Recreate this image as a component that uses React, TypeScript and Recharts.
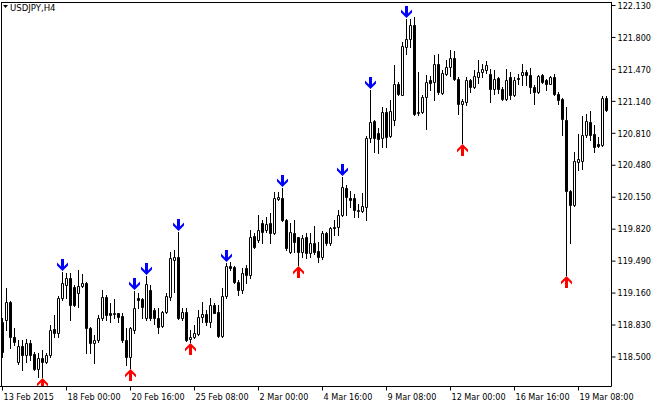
import React from "react";
import { ComposedChart, Bar, XAxis, YAxis } from "recharts";

const FONT = "'DejaVu Sans Condensed', 'DejaVu Sans', 'Liberation Sans', sans-serif";

// USDJPY H4 candles, oldest first
const opens = [
  118.861, 118.882, 119.07, 118.706, 118.452, 118.614, 118.521, 118.641, 118.531, 118.373,
  118.487, 118.452, 118.521, 118.786, 118.751, 119.106, 119.243, 119.312, 119.219, 119.157,
  119.232, 119.26, 118.796, 118.641, 118.676, 118.899, 119.122, 118.951, 118.944, 118.951,
  118.923, 118.676, 118.503, 118.779, 119.106, 119.095, 118.899, 119.191, 118.985, 118.899,
  118.82, 118.967, 119.122, 119.501, 119.535, 118.899, 118.967, 118.683, 118.71, 118.737,
  118.91, 118.944, 118.864, 119.036, 118.967, 118.717, 119.129, 119.439, 119.425, 119.277,
  119.191, 119.415, 119.346, 119.748, 119.707, 119.879, 119.81, 119.879, 119.782, 120.133,
  120.137, 119.913, 119.586, 119.782, 119.735, 119.586, 119.735, 119.57, 119.673, 119.596,
  119.528, 119.776, 119.673, 119.844, 119.844, 119.965, 120.24, 120.147, 120.137, 120.009,
  120.009, 120.05, 120.766, 120.937, 120.813, 120.766, 121.03, 120.779, 120.944, 121.323,
  121.202, 121.7, 121.787, 121.924, 121.016, 121.03, 121.184, 121.357, 121.339, 121.529,
  121.226, 121.426, 121.494, 121.591, 121.374, 121.116, 121.133, 121.364, 121.288, 121.391,
  121.442, 121.467, 121.426, 121.271, 121.384, 121.271, 121.168, 121.391, 121.202, 121.38,
  121.408, 121.442, 121.408, 121.288, 121.236, 121.408, 121.364, 121.323, 121.391, 121.212,
  121.168, 120.944, 120.215, 120.068, 120.514, 120.524, 120.789, 120.927, 120.8, 120.697,
  120.686, 121.178,
];
const highs = [
  118.902, 119.212, 119.078, 118.799, 118.676, 118.676, 118.686, 118.676, 118.555, 118.541,
  118.572, 118.545, 118.83, 118.933, 119.129, 119.38, 119.363, 119.363, 119.243, 119.397,
  119.356, 119.274, 118.813, 118.727, 118.933, 119.191, 119.14, 119.054, 119.098, 118.957,
  118.951, 118.796, 118.813, 119.18, 119.157, 119.106, 119.336, 119.243, 119.005, 119.002,
  118.978, 119.157, 119.586, 119.604, 119.79, 119.002, 119.002, 118.779, 118.83, 118.985,
  119.07, 118.985, 119.106, 119.054, 119.036, 119.209, 119.469, 119.483, 119.439, 119.294,
  119.418, 119.449, 119.81, 119.776, 119.965, 119.913, 119.947, 119.982, 120.205, 120.205,
  120.24, 119.93, 119.879, 119.913, 119.741, 119.758, 119.776, 119.782, 119.851, 119.689,
  119.803, 119.792, 119.844, 119.913, 120.016, 120.356, 120.274, 120.215, 120.188, 120.085,
  120.194, 120.779, 121.253, 120.944, 120.869, 121.081, 121.075, 121.15, 121.511, 121.339,
  121.752, 121.986, 121.993, 122.009, 121.442, 121.202, 121.408, 121.398, 121.614, 121.632,
  121.46, 121.563, 121.666, 121.661, 121.391, 121.168, 121.391, 121.374, 121.467, 121.563,
  121.529, 121.556, 121.477, 121.467, 121.391, 121.288, 121.477, 121.442, 121.391, 121.426,
  121.522, 121.467, 121.488, 121.305, 121.408, 121.419, 121.374, 121.398, 121.419, 121.236,
  121.178, 121.081, 120.222, 120.617, 120.807, 120.985, 121.006, 121.04, 120.893, 120.772,
  121.192, 121.192,
];
const lows = [
  118.5, 118.779, 118.593, 118.624, 118.428, 118.366, 118.452, 118.469, 118.366, 118.297,
  118.294, 118.441, 118.503, 118.71, 118.71, 119.088, 119.106, 118.882, 119.026, 119.019,
  119.222, 118.538, 118.541, 118.441, 118.658, 118.882, 118.882, 118.864, 118.899, 118.864,
  118.658, 118.418, 118.387, 118.745, 119.002, 118.899, 118.882, 118.882, 118.841, 118.745,
  118.813, 118.951, 119.088, 119.174, 118.892, 118.882, 118.665, 118.658, 118.693, 118.727,
  118.864, 118.83, 118.813, 118.951, 118.71, 118.71, 119.106, 119.397, 119.26, 119.14,
  119.16, 119.26, 119.312, 119.621, 119.689, 119.673, 119.792, 119.673, 119.768, 120.126,
  119.906, 119.604, 119.57, 119.586, 119.449, 119.535, 119.518, 119.535, 119.562, 119.483,
  119.508, 119.655, 119.655, 119.758, 119.758, 119.954, 119.965, 120.05, 119.947, 119.947,
  119.999, 119.913, 120.72, 120.617, 120.607, 120.669, 120.669, 120.772, 120.893, 121.202,
  121.202, 121.632, 121.7, 120.996, 121.001, 121.019, 120.859, 121.254, 121.158, 121.22,
  121.22, 121.408, 121.398, 121.357, 121.013, 120.707, 121.099, 121.236, 121.281, 121.329,
  121.391, 121.432, 121.133, 121.22, 121.226, 121.158, 121.158, 121.168, 121.192, 121.323,
  121.305, 121.305, 121.226, 121.116, 121.226, 121.329, 121.261, 121.315, 121.202, 121.109,
  120.79, 119.346, 119.679, 120.058, 120.429, 120.446, 120.772, 120.738, 120.617, 120.669,
  120.676, 121.04,
];
const closes = [
  118.552, 119.07, 118.71, 118.658, 118.614, 118.521, 118.641, 118.521, 118.373, 118.487,
  118.452, 118.521, 118.779, 118.751, 119.106, 119.26, 119.312, 119.036, 119.036, 119.232,
  119.26, 118.796, 118.648, 118.676, 118.899, 119.122, 118.933, 118.933, 118.951, 118.91,
  118.676, 118.503, 118.796, 119.002, 119.088, 119.013, 119.253, 118.899, 118.899, 118.813,
  118.967, 119.129, 119.518, 119.535, 118.899, 118.967, 118.676, 118.71, 118.745, 118.916,
  118.944, 118.864, 119.036, 118.957, 118.717, 119.129, 119.439, 119.421, 119.277, 119.191,
  119.366, 119.346, 119.741, 119.631, 119.81, 119.792, 119.869, 119.782, 120.147, 120.153,
  119.913, 119.621, 119.792, 119.689, 119.586, 119.724, 119.57, 119.673, 119.586, 119.528,
  119.776, 119.673, 119.827, 119.827, 119.965, 120.256, 120.153, 120.126, 120.016, 120.023,
  120.057, 120.766, 120.927, 120.766, 120.755, 121.03, 120.772, 121.04, 121.323, 121.22,
  121.707, 121.787, 121.924, 121.013, 121.03, 121.184, 121.339, 121.329, 121.522, 121.236,
  121.432, 121.494, 121.591, 121.374, 121.116, 121.14, 121.364, 121.288, 121.398, 121.442,
  121.477, 121.511, 121.271, 121.374, 121.271, 121.168, 121.357, 121.202, 121.364, 121.367,
  121.442, 121.408, 121.288, 121.236, 121.398, 121.339, 121.323, 121.391, 121.212, 121.15,
  120.962, 120.215, 120.068, 120.524, 120.549, 120.789, 120.937, 120.789, 120.669, 120.676,
  121.178, 121.055,
];

// bars that carry a signal arrow
const sellBars = [15, 33, 36, 44, 56, 70, 85, 92, 101];
const buyBars = [10, 32, 47, 74, 115, 141];

const timeLabels = [
  "13 Feb 2015",
  "18 Feb 00:00",
  "20 Feb 16:00",
  "25 Feb 08:00",
  "2 Mar 00:00",
  "4 Mar 16:00",
  "9 Mar 08:00",
  "12 Mar 00:00",
  "16 Mar 16:00",
  "19 Mar 08:00",
];
const BARS_PER_LABEL = 16;
const priceTicks = [
  118.5, 118.83, 119.16, 119.49, 119.82, 120.15, 120.48, 120.81, 121.14, 121.47, 121.8, 122.13,
];

const data = opens.map((open, i) => ({
  i,
  open,
  high: highs[i],
  low: lows[i],
  close: closes[i],
  sell: sellBars.includes(i),
  buy: buyBars.includes(i),
}));

const tickIdx = timeLabels.map((_, k) => k * BARS_PER_LABEL);

function Candle(props: any) {
  const { x, y, width, height, payload } = props;
  if (!payload) return null;
  const { open, high, low, close, sell, buy } = payload;
  const top = Math.min(y, y + height);
  const k = Math.abs(height) / (high - low || 1);
  const py = (p: number) => top + (high - p) * k;
  const cx = Math.round(x + width / 2 - 0.5) + 0.5;
  const yH = Math.round(py(high));
  const yL = Math.round(py(low));
  const yO = Math.round(py(open));
  const yC = Math.round(py(close));
  const bTop = Math.min(yO, yC) + 0.5;
  const bBot = Math.max(yO, yC) + 0.5;
  const bull = close >= open;
  const down = yH - 1;
  const up = yL + 1;
  return (
    <g>
      <line x1={cx} x2={cx} y1={yH} y2={yL + 1} stroke="#000" strokeWidth={1} />
      <path
        d={`M${cx - 1},${bTop}H${cx + 1}V${bBot}H${cx - 1}Z`}
        fill={bull ? "#fff" : "#000"}
        stroke="#000"
        strokeWidth={1}
      />
      {sell && (
        <path
          d={`M${cx},${down}L${cx - 5.5},${down - 5.5}L${cx - 5.5},${down - 8.5}L${cx - 1.5},${down - 4.5}L${cx - 1.5},${down - 12}L${cx + 1.5},${down - 12}L${cx + 1.5},${down - 4.5}L${cx + 5.5},${down - 8.5}L${cx + 5.5},${down - 5.5}Z`}
          fill="#0000ff"
        />
      )}
      {buy && (
        <path
          d={`M${cx},${up}L${cx - 5.5},${up + 5.5}L${cx - 5.5},${up + 8.5}L${cx - 1.5},${up + 4.5}L${cx - 1.5},${up + 12}L${cx + 1.5},${up + 12}L${cx + 1.5},${up + 4.5}L${cx + 5.5},${up + 8.5}L${cx + 5.5},${up + 5.5}Z`}
          fill="#ff0000"
        />
      )}
    </g>
  );
}

function TimeTick(props: any) {
  const { x, y, payload } = props;
  const label = timeLabels[Math.round(payload.value / BARS_PER_LABEL)];
  return (
    <text x={x + 1} y={y + 7} textAnchor="start" fontSize={9} fontFamily={FONT} fill="#000">
      {label}
    </text>
  );
}

export default function App() {
  return (
    <div style={{ position: "absolute", left: 0, top: 0, width: 652, height: 406, background: "#fff" }}>
      <ComposedChart
        width={652}
        height={406}
        data={data}
        margin={{ top: 2.5, right: 0, bottom: 0, left: 0 }}
        barCategoryGap={0}
        barGap={0}
      >
        <XAxis
          dataKey="i"
          type="category"
          ticks={tickIdx}
          interval={0}
          height={19.5}
          tickSize={4}
          tickMargin={2}
          padding={{ left: 0.5, right: 3 }}
          axisLine={{ stroke: "#000" }}
          tickLine={{ stroke: "#000" }}
          tick={<TimeTick />}
        />
        <YAxis
          orientation="right"
          type="number"
          domain={[118.195, 122.161]}
          allowDataOverflow
          ticks={priceTicks}
          interval={0}
          width={40.5}
          tickSize={4}
          tickMargin={2}
          axisLine={{ stroke: "#000" }}
          tickLine={{ stroke: "#000" }}
          tick={{ fontSize: 9, fill: "#000", fontFamily: FONT }}
          tickFormatter={(v: number) => v.toFixed(3)}
        />
        <Bar
          dataKey={(d: any) => [d.low, d.high]}
          shape={<Candle />}
          isAnimationActive={false}
        />
      </ComposedChart>
      <svg
        width={652}
        height={406}
        style={{ position: "absolute", left: 0, top: 0, pointerEvents: "none" }}
      >
        <line x1={1.5} x2={1.5} y1={2} y2={387} stroke="#000" />
        <line x1={1} x2={612} y1={2.5} y2={2.5} stroke="#000" />
        <polygon points="3,5 8,5 5.5,8" fill="#000" />
        <text x={10} y={10.5} fontSize={9.5} fontFamily={FONT} fill="#000">
          USDJPY,H4
        </text>
      </svg>
    </div>
  );
}
